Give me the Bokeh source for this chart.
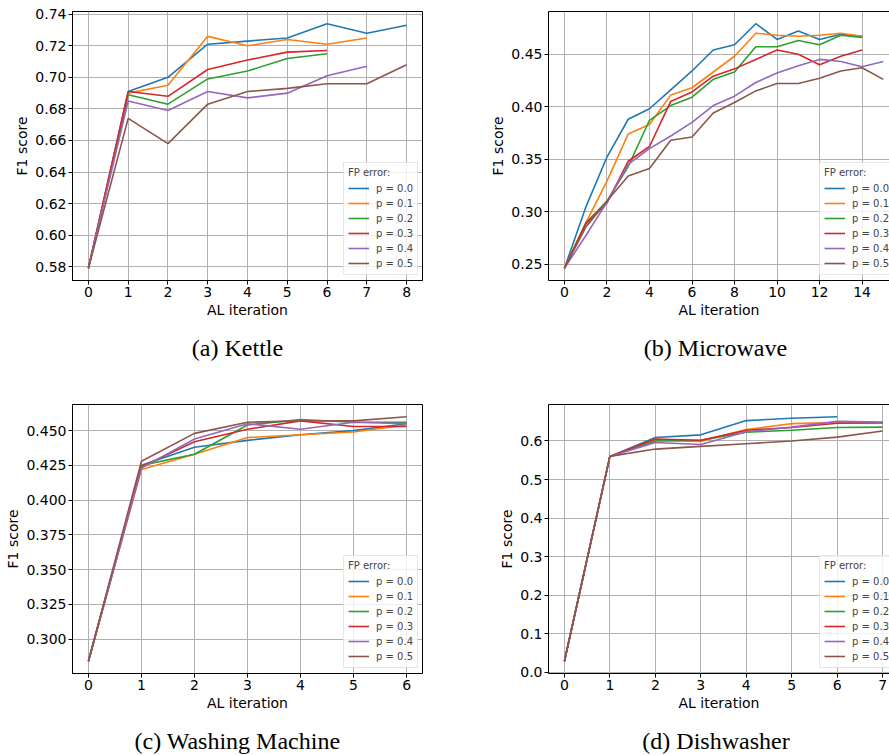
from bokeh.plotting import figure
from bokeh.models import (Range1d, FixedTicker, PrintfTickFormatter, Legend,
                          LegendItem, Label, LinearAxis)
from bokeh.layouts import column, row
from bokeh.embed import file_html
from bokeh.resources import INLINE

series_names = ["p = 0.0", "p = 0.1", "p = 0.2", "p = 0.3", "p = 0.4", "p = 0.5"]
series_colors = ["#1f77b4", "#ff7f0e", "#2ca02c", "#d62728", "#9467bd", "#8c564b"]

# (a) Kettle
kettle_p00 = [0.579, 0.691, 0.700, 0.721, 0.723, 0.725, 0.734, 0.728, 0.733]
kettle_p01 = [0.579, 0.690, 0.695, 0.726, 0.720, 0.724, 0.721, 0.725]
kettle_p02 = [0.579, 0.689, 0.683, 0.699, 0.704, 0.712, 0.715]
kettle_p03 = [0.579, 0.691, 0.688, 0.705, 0.711, 0.716, 0.717]
kettle_p04 = [0.579, 0.685, 0.679, 0.691, 0.687, 0.690, 0.701, 0.707]
kettle_p05 = [0.579, 0.674, 0.658, 0.683, 0.691, 0.693, 0.696, 0.696, 0.708]
kettle_xticks = [0, 1, 2, 3, 4, 5, 6, 7, 8]
kettle_yticks = [0.58, 0.60, 0.62, 0.64, 0.66, 0.68, 0.70, 0.72, 0.74]

# (b) Microwave
micro_p00 = [0.246, 0.304, 0.352, 0.388, 0.398, 0.416, 0.434, 0.454, 0.459, 0.479, 0.464, 0.472, 0.464, 0.469, 0.467]
micro_p01 = [0.246, 0.289, 0.329, 0.374, 0.383, 0.411, 0.418, 0.433, 0.448, 0.470, 0.468, 0.467, 0.468, 0.470, 0.467]
micro_p02 = [0.246, 0.289, 0.310, 0.343, 0.387, 0.401, 0.409, 0.426, 0.433, 0.457, 0.457, 0.463, 0.459, 0.468, 0.466]
micro_p03 = [0.246, 0.288, 0.308, 0.348, 0.362, 0.405, 0.414, 0.429, 0.436, 0.445, 0.454, 0.450, 0.440, 0.448, 0.454]
micro_p04 = [0.246, 0.277, 0.309, 0.345, 0.360, 0.372, 0.385, 0.401, 0.410, 0.423, 0.432, 0.439, 0.445, 0.443, 0.438, 0.443]
micro_p05 = [0.246, 0.285, 0.310, 0.334, 0.341, 0.368, 0.371, 0.394, 0.404, 0.415, 0.422, 0.422, 0.427, 0.434, 0.437, 0.426]
micro_xticks = [0, 2, 4, 6, 8, 10, 12, 14]
micro_yticks = [0.25, 0.30, 0.35, 0.40, 0.45]

# (c) Washing Machine
wash_p00 = [0.284, 0.425, 0.438, 0.443, 0.447, 0.450, 0.455]
wash_p01 = [0.284, 0.422, 0.433, 0.445, 0.447, 0.449, 0.454]
wash_p02 = [0.284, 0.425, 0.433, 0.454, 0.458, 0.456, 0.456]
wash_p03 = [0.284, 0.424, 0.442, 0.451, 0.457, 0.453, 0.453]
wash_p04 = [0.284, 0.423, 0.444, 0.455, 0.451, 0.456, 0.455]
wash_p05 = [0.284, 0.428, 0.448, 0.456, 0.457, 0.457, 0.460]
wash_xticks = [0, 1, 2, 3, 4, 5, 6]
wash_yticks = [0.300, 0.325, 0.350, 0.375, 0.400, 0.425, 0.450]

# (d) Dishwasher
dish_p00 = [0.028, 0.560, 0.609, 0.616, 0.653, 0.659, 0.663]
dish_p01 = [0.028, 0.560, 0.602, 0.599, 0.630, 0.645, 0.648, 0.648]
dish_p02 = [0.028, 0.560, 0.600, 0.602, 0.623, 0.628, 0.635, 0.636]
dish_p03 = [0.028, 0.560, 0.605, 0.602, 0.628, 0.635, 0.646, 0.647]
dish_p04 = [0.028, 0.560, 0.596, 0.591, 0.624, 0.636, 0.651, 0.649]
dish_p05 = [0.028, 0.560, 0.579, 0.586, 0.593, 0.600, 0.610, 0.626]
dish_xticks = [0, 1, 2, 3, 4, 5, 6, 7]
dish_yticks = [0.0, 0.1, 0.2, 0.3, 0.4, 0.5, 0.6]

captions = ["(a) Kettle", "(b) Microwave", "(c) Washing Machine", "(d) Dishwasher"]

FONT = "DejaVu Sans"


def make_panel(series, xr, xticks, yticks, yfmt, width, height,
               borders, legend_xy, cut_right):
    lo = min(min(s) for s in series)
    hi = max(max(s) for s in series)
    m = (hi - lo) * 0.05
    left, right, top, bottom = borders
    p = figure(width=width, height=height, output_backend="svg",
               toolbar_location=None,
               x_range=Range1d(*xr), y_range=Range1d(lo - m, hi + m),
               min_border_left=left, min_border_right=right,
               min_border_top=top, min_border_bottom=bottom)
    p.xaxis[0].ticker = FixedTicker(ticks=xticks)
    p.yaxis[0].ticker = FixedTicker(ticks=yticks)
    p.xgrid[0].ticker = FixedTicker(ticks=xticks)
    p.ygrid[0].ticker = FixedTicker(ticks=yticks)
    p.yaxis[0].formatter = PrintfTickFormatter(format=yfmt)
    p.xaxis.axis_label = "AL iteration"
    p.yaxis.axis_label = "F1 score"
    for ax in (p.xaxis[0], p.yaxis[0]):
        ax.major_label_text_font = FONT
        ax.major_label_text_font_size = "14px"
        ax.major_label_text_color = "black"
        ax.axis_label_text_font = FONT
        ax.axis_label_text_font_size = "14px"
        ax.axis_label_text_font_style = "normal"
        ax.axis_label_text_color = "black"
        ax.axis_line_color = "black"
        ax.major_tick_line_color = "black"
        ax.major_tick_in = 0
        ax.major_tick_out = 4
        ax.minor_tick_line_color = None
        ax.major_label_standoff = 2
        ax.axis_label_standoff = 2
    for g in (p.xgrid[0], p.ygrid[0]):
        g.grid_line_color = "#b0b0b0"
        g.grid_line_width = 1
    if cut_right:
        p.outline_line_color = None
        topax = LinearAxis(ticker=FixedTicker(ticks=[]), major_tick_out=0,
                           major_tick_in=0, minor_tick_out=0, minor_tick_in=0,
                           major_label_text_font_size="0px",
                           major_label_standoff=0, axis_line_color="black")
        p.add_layout(topax, "above")
    else:
        p.outline_line_color = "black"
        p.outline_line_alpha = 1
        p.outline_line_width = 1

    items = []
    for name, color, ys in zip(series_names, series_colors, series):
        xs = list(range(len(ys)))
        r = p.line(xs, ys, line_color=color, line_width=1.6)
        items.append(LegendItem(label=name, renderers=[r]))
    legend = Legend(items=items, location=legend_xy, title="FP error:",
                    title_text_font=FONT, title_text_font_size="10px",
                    title_text_font_style="normal", title_standoff=3,
                    label_text_font=FONT, label_text_font_size="10px",
                    glyph_width=21, glyph_height=14, label_height=14,
                    label_standoff=7, spacing=1, padding=4, margin=0,
                    border_line_color="#cccccc", border_line_width=1,
                    background_fill_alpha=0.8)
    p.add_layout(legend)
    return p


def caption_strip(text, width, height, cx, cy):
    # blank strip whose frame fills the canvas; range = pixels from bottom-left
    c = figure(width=width, height=height, output_backend="svg",
               toolbar_location=None, x_axis_type=None, y_axis_type=None,
               x_range=Range1d(0, width), y_range=Range1d(0, height),
               min_border=0, outline_line_color=None)
    c.add_layout(Label(x=cx, y=cy, text=text, text_font="Liberation Serif",
                       text_font_size="24px", text_align="center",
                       text_baseline="middle", text_color="black"))
    return c


pa = make_panel([kettle_p00, kettle_p01, kettle_p02, kettle_p03, kettle_p04, kettle_p05],
                (-0.4, 8.4), kettle_xticks, kettle_yticks, "%.2f",
                480, 330, (72, 58, 11, 50), (271, 5), False)
pb = make_panel([micro_p00, micro_p01, micro_p02, micro_p03, micro_p04, micro_p05],
                (-0.75, 15.29), micro_xticks, micro_yticks, "%.2f",
                409, 330, (68, 0, 11, 50), (271, 5), True)
pc = make_panel([wash_p00, wash_p01, wash_p02, wash_p03, wash_p04, wash_p05],
                (-0.3, 6.3), wash_xticks, wash_yticks, "%.3f",
                480, 327, (72, 58, 11, 47), (271, 5), False)
pd_ = make_panel([dish_p00, dish_p01, dish_p02, dish_p03, dish_p04, dish_p05],
                 (-0.35, 7.15), dish_xticks, dish_yticks, "%.1f",
                 409, 327, (68, 0, 11, 47), (271, 5), True)

ca = caption_strip(captions[0], 480, 63, 237, 46)
cb = caption_strip(captions[1], 409, 63, 235, 46)
cc = caption_strip(captions[2], 480, 35, 237, 15)
cd = caption_strip(captions[3], 409, 35, 235.5, 15)

layout = column(row(pa, pb), row(ca, cb), row(pc, pd_), row(cc, cd))
open("out.html", "w").write(file_html(layout, INLINE))
